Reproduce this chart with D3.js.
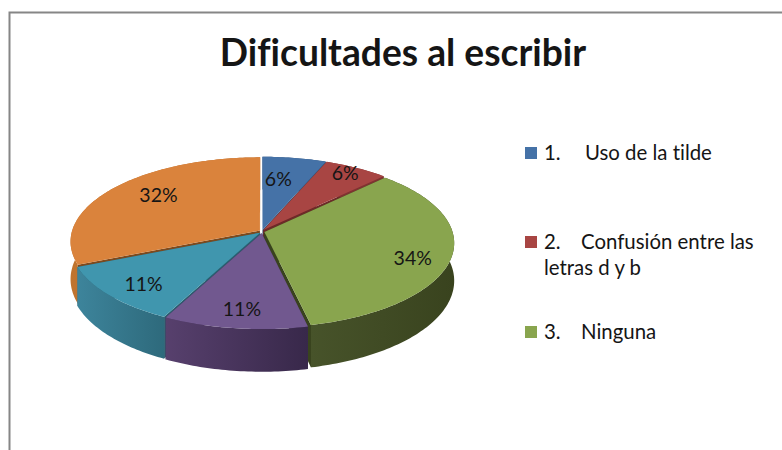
<!DOCTYPE html>
<meta charset="utf-8">
<style>
body { margin: 0; background: #fff; }
text { font-family: Lato, "Open Sans", sans-serif; fill: #151515; font-variant-ligatures: none; }
</style>
<body>
<div id="chart"></div>
<script src="https://d3js.org/d3.v7.min.js"></script>
<script>
// values
var titleText = "Dificultades al escribir";
var percentValues = [6.2, 6.2, 34.3, 10.9, 11.2, 31.5];
var topColors = ["#4572a7", "#a84543", "#89a54e", "#71588f", "#4096ae", "#da833c"];
var rimLeft = ["#35567f", "#7f3331", "#47532a", "#57406d", "#3d849b", "#c0742f"];
var rimRight = ["#35567f", "#7f3331", "#39431e", "#38284a", "#2e6a7c", "#b86d2d"];
var wallColors = ["#2c4a6e", "#6d2a28", "#39431e", "#3d2c50", "#2a5f70", "#7c4a1e"];
var legendNumbers = ["1.", "2.", "3."];
var legendLabels = [["Uso de la tilde"], ["Confusión entre las", "letras d y b"], ["Ninguna"]];
var legendColors = ["#4572a7", "#a84543", "#89a54e"];

var width = 782, height = 450;
var cx = 262, cy = 231.5, radiusX = 188, radiusY = 83, persp = 0.13, depth = 37, explode = 2.5;
var deg = Math.PI / 180;

var svg = d3.select("#chart").append("svg")
    .attr("width", width)
    .attr("height", height);

// frame is cut by the right and bottom edge of the screenshot
svg.append("path")
    .attr("d", "M9.5,450V12.5H782")
    .attr("fill", "none")
    .attr("stroke", "#868686")
    .attr("stroke-width", 2);

svg.append("text")
    .attr("x", 403)
    .attr("y", 66)
    .attr("text-anchor", "middle")
    .attr("font-weight", 700)
    .attr("font-size", 37.2)
    .text(titleText);

// ground plane -> screen, with a little perspective so the front gets bigger
function project(a, r, ox, oy, drop) {
    var px = r * Math.sin(a) + ox;
    var py = r * Math.cos(a) + oy;
    var s = 1 / (1 + persp * py);
    return [cx + radiusX * px * s, cy - radiusY * py * s + (drop || 0) * s];
}

var line = d3.line();
var pie = d3.pie().sort(null).value(function(d) { return d; });
var arcs = pie(percentValues);

var defs = svg.append("defs");
arcs.forEach(function(d, i) {
    var g = defs.append("linearGradient")
        .attr("id", "rim" + i)
        .attr("gradientUnits", "objectBoundingBox");
    g.append("stop").attr("offset", "0%").attr("stop-color", rimLeft[i]);
    g.append("stop").attr("offset", "100%").attr("stop-color", rimRight[i]);
});

// back slices first
var drawOrder = [0, 1, 5, 2, 4, 3];
drawOrder.forEach(function(i) {
    var d = arcs[i];
    var mid = (d.startAngle + d.endAngle) / 2;
    var ox = explode / radiusX * Math.sin(mid);
    var oy = explode / radiusX * Math.cos(mid) * 1.5;
    var angles = d3.range(d.startAngle, d.endAngle, 1 * deg).concat([d.endAngle]);
    var topEdge = angles.map(function(a) { return project(a, 1, ox, oy, 0); });
    var lowEdge = angles.map(function(a) { return project(a, 1, ox, oy, depth); }).reverse();
    var apex = project(0, 0, ox, oy, 0);
    var apexLow = project(0, 0, ox, oy, depth);
    var g = svg.append("g");

    // cut faces
    [topEdge[0], topEdge[topEdge.length - 1]].forEach(function(p, k) {
        var q = k ? lowEdge[0] : lowEdge[lowEdge.length - 1];
        g.append("path")
            .attr("d", line([apex, p, q, apexLow]) + "Z")
            .attr("fill", wallColors[i]);
    });
    g.append("path")
        .attr("d", line(topEdge.concat(lowEdge)) + "Z")
        .attr("fill", "url(#rim" + i + ")");
    g.append("path")
        .attr("d", line([apex].concat(topEdge)) + "Z")
        .attr("fill", topColors[i]);
});

// label nudges from the point at 70% of the radius
var labelNudgeX = [-7, 16, 21, -2, -16, 1];
var labelNudgeY = [0, -13, 10, 14, 10, -6];
svg.selectAll(".pct")
    .data(arcs)
    .enter().append("text")
    .attr("class", "pct")
    .attr("text-anchor", "middle")
    .attr("font-size", 19.5)
    .attr("x", function(d, i) { return project((d.startAngle + d.endAngle) / 2, 0.7, 0, 0, 0)[0] + labelNudgeX[i]; })
    .attr("y", function(d, i) { return project((d.startAngle + d.endAngle) / 2, 0.7, 0, 0, 0)[1] + labelNudgeY[i] + 7; })
    .text(function(d) { return Math.round(d.value) + "%"; });

// legend
var rowBase = [160, 249, 339];
var textStart = [585, 581, 581];
legendNumbers.forEach(function(n, i) {
    svg.append("rect")
        .attr("x", 525)
        .attr("y", rowBase[i] - 13)
        .attr("width", 12)
        .attr("height", 12)
        .attr("fill", legendColors[i]);
    svg.append("text")
        .attr("x", 544)
        .attr("y", rowBase[i])
        .attr("font-size", 20.4)
        .text(n);
    legendLabels[i].forEach(function(t, k) {
        svg.append("text")
            .attr("x", k ? 544 : textStart[i])
            .attr("y", rowBase[i] + k * 26)
            .attr("font-size", 20.4)
            .text(t);
    });
});
</script>
</body>
